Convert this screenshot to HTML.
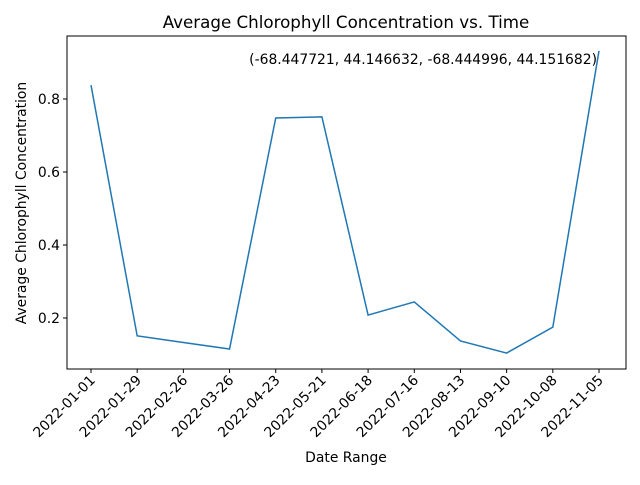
<!DOCTYPE html>
<html><head><meta charset="utf-8"><style>
body{margin:0;background:#fff}
svg{font-family:"DejaVu Sans","Liberation Sans",sans-serif}
</style></head><body>
<svg id="chart" width="640" height="480">
<rect width="640" height="480" fill="#fff"/>
<text x="346" y="28" text-anchor="middle" font-size="16.7">Average Chlorophyll Concentration vs. Time</text>
<text x="597" y="64" text-anchor="end" font-size="13.9">(-68.447721, 44.146632, -68.444996, 44.151682)</text>
<text x="346" y="462" text-anchor="middle" font-size="13.9">Date Range</text>
<text transform="translate(26,203) rotate(-90)" text-anchor="middle" font-size="13.9">Average Chlorophyll Concentration</text>
<g id="axes"></g>
<rect x="67" y="36" width="559" height="333" fill="none" stroke="#000" stroke-width="1"/>
</svg>
<script>
const dates=["2022-01-01","2022-01-29","2022-02-26","2022-03-26","2022-04-23","2022-05-21","2022-06-18","2022-07-16","2022-08-13","2022-09-10","2022-10-08","2022-11-05"];
const values=[0.838,0.151,0.133,0.115,0.748,0.751,0.208,0.244,0.137,0.104,0.175,0.932];
const yTicks=[0.2,0.4,0.6,0.8];
const yTickLabels=["0.2","0.4","0.6","0.8"];
const NS="http://www.w3.org/2000/svg";
const g=document.getElementById('axes');
const x0=91,x1=599;
function xs(i){return x0+(x1-x0)*i/(dates.length-1);}
function ys(v){return 318-(v-0.2)*365;}
function mk(t,a){const e=document.createElementNS(NS,t);for(const k in a)e.setAttribute(k,a[k]);g.appendChild(e);return e;}
yTicks.forEach((v,i)=>{
 const t=mk('line',{x1:63,x2:67,y1:ys(v),y2:ys(v),stroke:'#000'});
 
 
 const l=mk('text',{x:60,y:ys(v)+5,'text-anchor':'end','font-size':'13.9'});
 l.textContent=yTickLabels[i];
 
 
});
dates.forEach((d,i)=>{
 const x=xs(i);
 const t=mk('line',{x1:x,x2:x,y1:369,y2:373,stroke:'#000'});
 
 
 const l=mk('text',{transform:`translate(${x+5},${381}) rotate(-45)`,'text-anchor':'end','font-size':'13.9'});
 l.textContent=d;
 
 
});
const p=mk('polyline',{points:values.map((v,i)=>xs(i)+','+ys(v)).join(' '),fill:'none',stroke:'#1f77b4','stroke-width':1.5});


</script>
</body></html>
